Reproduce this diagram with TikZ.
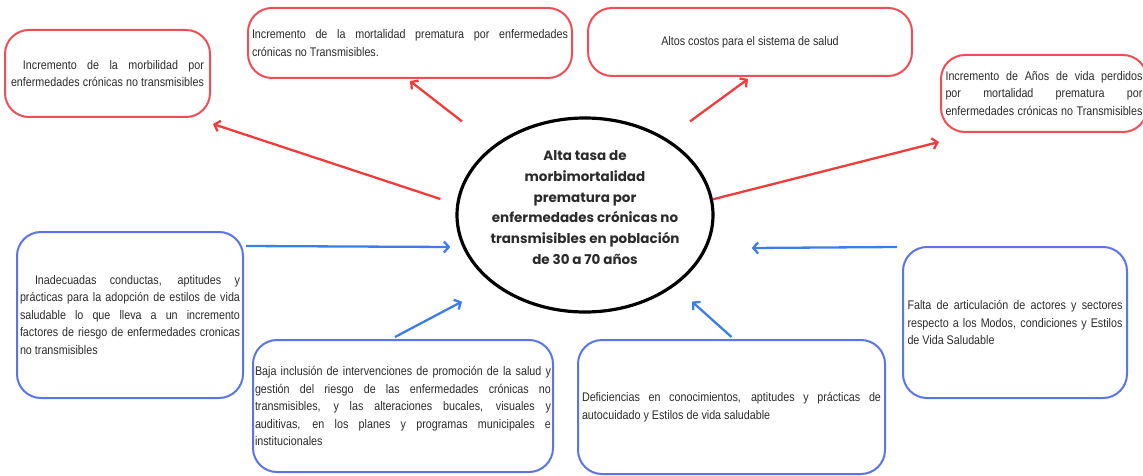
\documentclass[tikz,border=0pt]{standalone}
\usepackage{fontspec}
\usepackage{xcolor}
\usepackage{tikz}
\usetikzlibrary{arrows.meta,shapes.geometric}
\newfontfamily\boxfont{Liberation Sans}[FakeStretch=0.86]
\newfontfamily\corefont{Poppins}
\definecolor{effectred}{HTML}{F04E57}
\definecolor{effectarrow}{HTML}{F23B3B}
\definecolor{causeblue}{HTML}{5B74E6}
\definecolor{causearrow}{HTML}{3D7EE6}
\definecolor{inkgray}{HTML}{2B2B2B}
\newcommand{\jline}[1]{\makebox[\hsize][s]{\spaceskip=0pt\xspaceskip=0pt\relax#1}}
\tikzset{
  box/.style={rectangle,rounded corners=24pt,line width=2pt,inner sep=0pt,
    font=\boxfont\fontsize{12.5}{17.5}\selectfont,text=inkgray,align=justify},
  effect box/.style={box,draw=effectred},
  cause box/.style={box,draw=causeblue},
  core/.style={ellipse,draw=black,line width=3.2pt,inner xsep=-10pt,inner ysep=0pt,
    minimum width=256pt,minimum height=194pt,text=inkgray,align=center,text depth=15pt,
    font=\corefont\bfseries\fontsize{13.5}{20.8}\selectfont},
  effect arrow/.style={draw=effectarrow,line width=2.3pt,
    -{Straight Barb[length=5pt,width=11pt]}},
  cause arrow/.style={draw=causearrow,line width=2.3pt,
    -{Straight Barb[length=5pt,width=11pt]}}
}

\begin{document}
\begin{tikzpicture}[x=1pt,y=-1pt]
  \useasboundingbox (0,0) rectangle (1143,476);
  \clip (0,0) rectangle (1143,476);
  % problema central
  \node[core] (tasa) at (585,215)
    {Alta tasa de\\morbimortalidad\\prematura por\\enfermedades crónicas no\\transmisibles en población\\de 30 a 70 años};
  % efectos
  \node[effect box,minimum width=205pt,minimum height=87pt,text width=193pt] (morbilidad) at (107.5,73.5)
    {\jline{\hspace*{12pt}Incremento de la morbilidad por}\\\jline{enfermedades crónicas no transmisibles}};
  \node[effect box,minimum width=324pt,minimum height=70pt,text width=316pt] (mortalidad) at (410,43)
    {\jline{Incremento de la mortalidad prematura por enfermedades}\\crónicas no Transmisibles.};
  \node[effect box,minimum width=324pt,minimum height=68pt,align=center] (costos) at (750,42)
    {Altos costos para el sistema de salud};
  \node[effect box,minimum width=206pt,minimum height=77pt,text width=197pt] (aniosperdidos) at (1044,93.5)
    {\jline{Incremento de Años de vida perdidos}\\\jline{por mortalidad prematura por}\\\jline{enfermedades crónicas no Transmisibles}};
  % causas
  \node[cause box,minimum width=226pt,minimum height=166pt,text width=220pt] (conductas) at (130,315)
    {\jline{\hspace*{15pt}Inadecuadas conductas, aptitudes y}\\\jline{prácticas para la adopción de estilos de vida}\\\jline{saludable lo que lleva a un incremento}\\\jline{factores de riesgo de enfermedades cronicas}\\no transmisibles};
  \node[cause box,minimum width=300pt,minimum height=132pt,text width=296pt] (inclusion) at (403,406)
    {\jline{Baja inclusión de intervenciones de promoción de la salud y}\\\jline{gestión del riesgo de las enfermedades crónicas no}\\\jline{transmisibles, y las alteraciones bucales, visuales y}\\\jline{auditivas, en los planes y programas municipales e}\\institucionales};
  \node[cause box,minimum width=307pt,minimum height=134pt,text width=299pt] (deficiencias) at (731.5,407)
    {\jline{Deficiencias en conocimientos, aptitudes y prácticas de}\\autocuidado y Estilos de vida saludable};
  \node[cause box,minimum width=224pt,minimum height=151pt,text width=215pt] (articulacion) at (1015,322.5)
    {\jline{Falta de articulación de actores y sectores}\\\jline{respecto a los Modos, condiciones y Estilos}\\de Vida Saludable};
  % flechas
  \draw[effect arrow] ([shift={(-15,-16)}]tasa.west) -- ([shift={(2,6)}]morbilidad.south east);
  \draw[effect arrow] ([shift={(-123,5)}]tasa.north) -- ([shift={(0,2)}]mortalidad.south);
  \draw[effect arrow] ([shift={(105,5)}]tasa.north) -- ([shift={(-2,2)}]costos.south);
  \draw[effect arrow] (tasa.7) -- ([shift={(-1,9)}]aniosperdidos.south west);
  \draw[cause arrow] ([shift={(2,15)}]conductas.north east) -- ([shift={(-5,32)}]tasa.west);
  \draw[cause arrow] ([shift={(-8,-2)}]inclusion.north) -- ([shift={(-123,-12)}]tasa.south);
  \draw[cause arrow] ([shift={(0,-2)}]deficiencias.north) -- ([shift={(107,-12)}]tasa.south);
  \draw[cause arrow] ([shift={(-5,1)}]articulacion.north west) -- ([shift={(37,33)}]tasa.east);
\end{tikzpicture}
\end{document}
